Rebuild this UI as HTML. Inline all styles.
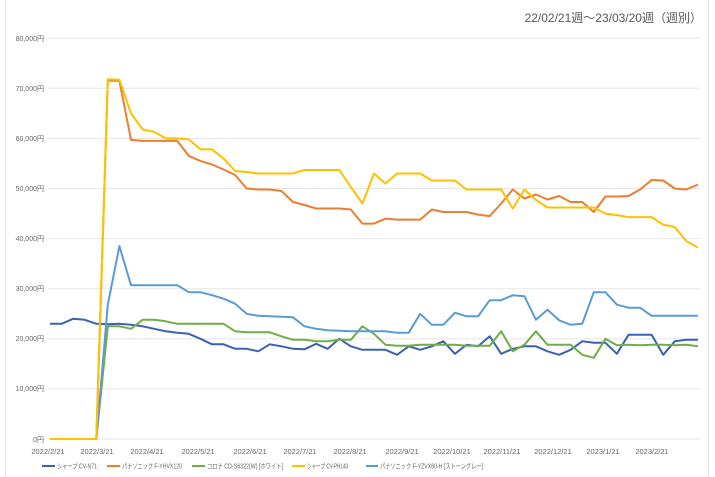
<!DOCTYPE html>
<html><head><meta charset="utf-8"><style>
body{margin:0;background:#fff;}
svg{display:block;font-family:"Liberation Sans","Noto Sans CJK JP",sans-serif;}
</style></head><body>
<svg id="c" width="715" height="477" viewBox="0 0 715 477">
<rect x="0" y="0" width="715" height="477" fill="#fff"/>
<line x1="5.5" y1="0" x2="5.5" y2="477" stroke="#e4e4e4"/>
<line x1="708.5" y1="0" x2="708.5" y2="477" stroke="#e4e4e4"/>
<text x="702" y="22" font-size="12" fill="#595959" text-anchor="end">22/02/21週～23/03/20週（週別）</text>
<g id="grid"></g>
<g font-size="7" fill="#666" text-anchor="end">
<text x="44" y="41">80,000円</text><text x="44" y="91">70,000円</text><text x="44" y="141">60,000円</text><text x="44" y="191">50,000円</text><text x="44" y="241">40,000円</text><text x="44" y="291">30,000円</text><text x="44" y="341">20,000円</text><text x="44" y="391">10,000円</text><text x="44" y="442">0円</text>
</g>
<g font-size="7.5" fill="#666" text-anchor="middle">
<text x="48" y="454">2022/2/21</text><text x="97" y="454">2022/3/21</text><text x="147" y="454">2022/4/21</text><text x="198" y="454">2022/5/21</text><text x="250" y="454">2022/6/21</text><text x="300" y="454">2022/7/21</text><text x="350" y="454">2022/8/21</text><text x="402" y="454">2022/9/21</text><text x="452" y="454">2022/10/21</text><text x="502" y="454">2022/11/21</text><text x="553" y="454">2022/12/21</text><text x="603" y="454">2023/1/21</text><text x="652" y="454">2023/2/21</text>
</g>
<g font-size="7" fill="#666">
<line x1="42" y1="466" x2="55" y2="466" stroke="#3a62b0" stroke-width="2"/><text x="57" y="468.5" textLength="40" lengthAdjust="spacingAndGlyphs">シャープ CV-N71</text>
<line x1="107" y1="466" x2="120" y2="466" stroke="#ed7d31" stroke-width="2"/><text x="122" y="468.5" textLength="60" lengthAdjust="spacingAndGlyphs">パナソニック F-YHVX120</text>
<line x1="192" y1="466" x2="205" y2="466" stroke="#70ad47" stroke-width="2"/><text x="207" y="468.5" textLength="76" lengthAdjust="spacingAndGlyphs">コロナ CD-S6322(W) [ホワイト]</text>
<line x1="292" y1="466" x2="305" y2="466" stroke="#ffc000" stroke-width="2"/><text x="307" y="468.5" textLength="41" lengthAdjust="spacingAndGlyphs">シャープ CV-PH140</text>
<line x1="366" y1="466" x2="378" y2="466" stroke="#5b9bd5" stroke-width="2"/><text x="380" y="468.5" textLength="103" lengthAdjust="spacingAndGlyphs">パナソニック F-YZVX60-H [ストーングレー]</text>
</g>
<g id="lines"></g>
</svg>
<script>
var ns="http://www.w3.org/2000/svg";
var g=document.getElementById('grid');
for(var k=0;k<=8;k++){var y=439-k*50.1;var l=document.createElementNS(ns,'line');l.setAttribute('x1',48);l.setAttribute('x2',700);l.setAttribute('y1',y);l.setAttribute('y2',y);l.setAttribute('stroke','#e6e6e6');l.setAttribute('stroke-width','1');g.appendChild(l);}
var S=[
["#3a62b0",[23000,23000,24000,23800,23000,22900,23000,22800,22500,22000,21500,21200,21000,20000,18900,18900,18000,18000,17500,18900,18500,18000,17900,19000,18000,20000,18500,17800,17800,17800,16800,18500,17800,18500,19500,17000,18800,18500,20500,17000,18000,18500,18500,17500,16800,17800,19500,19200,19200,17000,20800,20800,20800,16800,19500,19800,19800]],
["#70ad47",[0,0,0,0,0,22500,22500,22000,23800,23800,23500,23000,23000,23000,23000,23000,21500,21300,21300,21300,20500,19800,19800,19500,19500,19800,19800,22500,21000,18800,18600,18600,18800,18800,18800,18800,18600,18600,18600,21500,17500,18800,21500,18800,18800,18800,16800,16200,20000,18700,18800,18700,18800,18800,18700,18800,18500]],
["#5b9bd5",[0,0,0,0,0,26800,38500,30700,30700,30700,30700,30700,29300,29300,28700,28000,27000,25000,24600,24500,24400,24300,22500,22000,21700,21600,21500,21500,21500,21500,21200,21200,25000,22800,22800,25200,24500,24500,27700,27700,28700,28500,23800,25800,23700,22800,23000,29300,29300,26800,26200,26200,24600,24600,24600,24600,24600]],
["#ed7d31",[0,0,0,0,0,71500,71500,59700,59500,59500,59500,59500,56500,55500,54800,53800,52700,50000,49800,49800,49500,47300,46700,46000,46000,46000,45800,43000,43000,44000,43800,43800,43800,45800,45300,45300,45300,44800,44500,47000,49800,48000,48800,47800,48500,47300,47300,45300,48400,48400,48500,49800,51700,51600,50000,49800,50800]],
["#ffc000",[0,0,0,0,0,71800,71700,65000,61800,61300,60000,60000,59800,57800,57800,56000,53500,53300,53000,53000,53000,53000,53700,53700,53700,53700,50300,47000,53000,51000,53000,53000,53000,51600,51600,51600,49800,49800,49800,49800,46000,49800,47700,46200,46200,46200,46200,46200,45000,44700,44300,44300,44300,42800,42300,39500,38200]]
];
var L=document.getElementById('lines');
S.forEach(function(s){var p=s[1].map(function(v,i){return (50+i*11.57).toFixed(1)+","+(439-v*0.00501).toFixed(1);}).join(" ");
var e=document.createElementNS(ns,'polyline');e.setAttribute('points',p);e.setAttribute('fill','none');e.setAttribute('stroke',s[0]);e.setAttribute('stroke-width','2');e.setAttribute('stroke-linejoin','round');L.appendChild(e);});
</script>
</body></html>
